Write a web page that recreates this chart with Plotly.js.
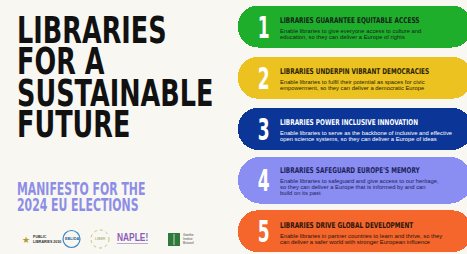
<!DOCTYPE html>
<html><head><meta charset="utf-8">
<script src="https://cdn.plot.ly/plotly-3.0.1.min.js"></script>
<style>html,body{margin:0;padding:0;background:#f8f7f2;}#chart{width:467px;height:254px;}</style>
</head><body><div id="chart"></div>
<script>
// ---- content ----
const headline = ['LIBRARIES', 'FOR A', 'SUSTAINABLE', 'FUTURE'];
const subtitle = ['MANIFESTO FOR THE', '2024 EU ELECTIONS'];
const numbers = ['1', '2', '3', '4', '5'];
const titles = [
  'LIBRARIES GUARANTEE EQUITABLE ACCESS',
  'LIBRARIES UNDERPIN VIBRANT DEMOCRACIES',
  'LIBRARIES POWER INCLUSIVE INNOVATION',
  "LIBRARIES SAFEGUARD EUROPE'S MEMORY",
  'LIBRARIES DRIVE GLOBAL DEVELOPMENT'
];
const descriptions = [
  ['Enable libraries to give everyone access to culture and', 'education, so they can deliver a Europe of rights'],
  ['Enable libraries to fulfil their potential as spaces for civic', 'empowerment, so they can deliver a democratic Europe'],
  ['Enable libraries to serve as the backbone of inclusive and effective', 'open science systems, so they can deliver a Europe of ideas'],
  ['Enable libraries to safeguard and give access to our heritage,', 'so they can deliver a Europe that is informed by and can', 'build on its past'],
  ['Enable libraries in partner countries to learn and thrive, so they', 'can deliver a safer world with stronger European influence']
];
const logos = ['PUBLIC LIBRARIES 2030', 'EBLIDA', 'LIBER', 'NAPLE!', 'Goethe'];

// ---- styles ----
const bannerColors = ['#1fae2c', '#ebc21f', '#0b3597', '#8a8df2', '#f4662c'];
const textColors = ['#14241a', '#2a2208', '#ffffff', '#1c1f5a', '#2a1408'];
const bannerThickness = [0.82, 0.82, 0.82, 0.92, 0.82];
const BG = '#f8f7f2';
const COND = "'DejaVu Sans', sans-serif";
const SANS = "'Liberation Sans', Arial, sans-serif";
const W = 467, H = 254;
const BANNER_LEFT = 238;

const idx = numbers.map((_, i) => i);

const trace = {
  type: 'bar', orientation: 'h',
  y: idx,
  x: idx.map(() => BANNER_LEFT - W - 5),
  base: W + 5,
  width: bannerThickness,
  marker: { color: bannerColors, cornerradius: '50%', line: { width: 0 } },
  hoverinfo: 'skip', showlegend: false
};

const ann = [];
const squeeze = [];   // horizontal compression per annotation (to mimic a condensed display face)
function add(a, sx) { ann.push(a); squeeze.push(sx || 1); }

idx.forEach(i => {
  const n = descriptions[i].length;
  add({ x: 264, y: i, xref: 'x', yref: 'y', text: '<b>' + numbers[i] + '</b>', showarrow: false,
    font: { family: COND, size: 31, color: '#ffffff' }, xanchor: 'center', yanchor: 'middle', yshift: 0 }, 0.55);
  add({ x: 278, y: i, xref: 'x', yref: 'y', text: '<b>' + titles[i] + '</b>', showarrow: false,
    font: { family: COND, size: 8, color: textColors[i] }, xanchor: 'left', yanchor: 'middle',
    yshift: 6 + 3.2 * (n - 2) }, 0.72);
  add({ x: 278, y: i, xref: 'x', yref: 'y', text: descriptions[i].join('<br>'), showarrow: false,
    font: { family: SANS, size: 4.5, color: textColors[i] }, xanchor: 'left', yanchor: 'top', align: 'left',
    yshift: -0.5 + 3.2 * (n - 2) }, 1.3);
});
headline.forEach((t, i) => {
  add({ x: 15 / W, y: 1 - (30 + i * 31.5) / H, xref: 'paper', yref: 'paper', text: '<b>' + t + '</b>',
    showarrow: false, font: { family: COND, size: 37, color: '#111111' }, xanchor: 'left', yanchor: 'middle' }, 0.69);
});
subtitle.forEach((t, i) => {
  add({ x: 15 / W, y: 1 - (189 + i * 15.5) / H, xref: 'paper', yref: 'paper', text: '<b>' + t + '</b>',
    showarrow: false, font: { family: COND, size: 17, color: '#8c8ee6' }, xanchor: 'left', yanchor: 'middle' }, 0.64);
});
// logo row
const ly = 1 - 239 / H;
add({ x: 26 / W, y: ly, xref: 'paper', yref: 'paper', text: '★', showarrow: false,
  font: { size: 9, color: '#b8962c' }, xanchor: 'center', yanchor: 'middle' });
add({ x: 31 / W, y: ly, xref: 'paper', yref: 'paper', text: '<b>PUBLIC<br>LIBRARIES 2030</b>', showarrow: false,
  font: { family: SANS, size: 3.6, color: '#333333' }, xanchor: 'left', yanchor: 'middle', align: 'left' });
add({ x: 71.5 / W, y: ly, xref: 'paper', yref: 'paper', text: '<b>' + logos[1] + '</b>', showarrow: false,
  font: { family: SANS, size: 3.8, color: '#1f5e94' }, xanchor: 'center', yanchor: 'middle' });
add({ x: 100 / W, y: ly, xref: 'paper', yref: 'paper', text: logos[2], showarrow: false,
  font: { family: SANS, size: 3.6, color: '#8a9a4a' }, xanchor: 'center', yanchor: 'middle' });
add({ x: 115 / W, y: 1 - 237 / H, xref: 'paper', yref: 'paper', text: '<b>' + logos[3] + '</b>', showarrow: false,
  font: { family: SANS, size: 10.5, color: '#8c5db8' }, xanchor: 'left', yanchor: 'middle' }, 0.8);
add({ x: 181 / W, y: ly, xref: 'paper', yref: 'paper', text: logos[4] + '<br>Institut<br>Brüssel', showarrow: false,
  font: { family: SANS, size: 3.2, color: '#444444' }, xanchor: 'left', yanchor: 'middle', align: 'left' });

const shapes = [
  { type: 'circle', xref: 'paper', yref: 'paper', x0: 63 / W, x1: 80 / W, y0: 1 - 247.5 / H, y1: 1 - 230.5 / H,
    line: { color: '#3b86c4', width: 1.2 }, fillcolor: 'rgba(0,0,0,0)' },
  { type: 'circle', xref: 'paper', yref: 'paper', x0: 91 / W, x1: 109 / W, y0: 1 - 248 / H, y1: 1 - 230 / H,
    line: { color: '#c9c07a', width: 1, dash: 'dot' }, fillcolor: 'rgba(0,0,0,0)' },
  { type: 'rect', xref: 'paper', yref: 'paper', x0: 117 / W, x1: 148 / W, y0: 1 - 244 / H, y1: 1 - 243 / H,
    line: { width: 0 }, fillcolor: '#b7a9cc' },
  { type: 'rect', xref: 'paper', yref: 'paper', x0: 168 / W, x1: 180 / W, y0: 1 - 246 / H, y1: 1 - 233 / H,
    line: { width: 0 }, fillcolor: '#2f7a3b' },
  { type: 'line', xref: 'paper', yref: 'paper', x0: 174 / W, x1: 174 / W, y0: 1 - 245 / H, y1: 1 - 234 / H,
    line: { width: 0.8, color: '#e8f0e0' } }
];

const layout = {
  width: W, height: H,
  margin: { l: 0, r: 0, t: 0, b: 0, pad: 0 },
  paper_bgcolor: BG, plot_bgcolor: BG,
  xaxis: { range: [0, W], visible: false, fixedrange: true },
  yaxis: { range: [4.443, -0.518], visible: false, fixedrange: true },
  bargap: 0,
  annotations: ann,
  shapes: shapes,
  showlegend: false
};

Plotly.newPlot('chart', [trace], layout, { displayModeBar: false, staticPlot: true }).then(gd => {
  gd.querySelectorAll('g.annotation').forEach(g => {
    const k = +g.getAttribute('data-index');
    const sx = squeeze[k];
    if (!sx || sx === 1) return;
    const t = g.querySelector('text.annotation-text');
    if (!t) return;
    const bb = t.getBBox();
    const x0 = ann[k].xanchor === 'left' ? bb.x : bb.x + bb.width / 2;
    const prev = t.getAttribute('transform') || '';
    t.setAttribute('transform', prev + ` translate(${x0},0) scale(${sx},1) translate(${-x0},0)`);
  });
});
</script>
</body></html>
